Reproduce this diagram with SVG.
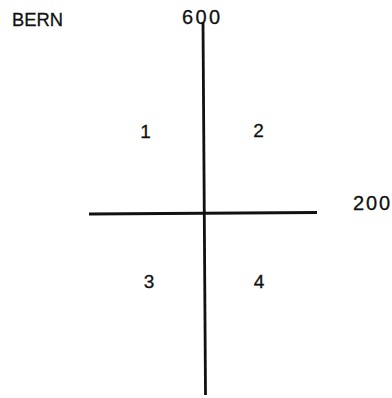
<svg xmlns="http://www.w3.org/2000/svg" width="392" height="398" viewBox="0 0 392 398">
<style>
text{font-family:"Liberation Sans",Arial,sans-serif;font-size:19px;fill:#111;stroke:#111;stroke-width:0.3}
.num{font-size:20px}
.ax{stroke:#111;stroke-width:2.8;fill:none;stroke-linecap:butt}
</style>
<rect width="392" height="398" fill="#fff"/>
<g id="connectors">
<line class="ax" x1="203" y1="22" x2="205.5" y2="395"/>
<line class="ax" x1="89" y1="214" x2="317" y2="212.5"/>
</g>
<g id="title"><text x="12" y="26" font-size="18" textLength="51" lengthAdjust="spacingAndGlyphs">BERN</text></g>
<g id="label-600"><text class="num" x="182" y="23.5" textLength="38" lengthAdjust="spacing">600</text></g>
<g id="label-200"><text class="num" x="353" y="209.5" textLength="37" lengthAdjust="spacing">200</text></g>
<g id="q1"><text x="145.5" y="138" text-anchor="middle">1</text></g>
<g id="q2"><text x="258.5" y="136.5" text-anchor="middle">2</text></g>
<g id="q3"><text x="149" y="287.5" text-anchor="middle">3</text></g>
<g id="q4"><text x="259" y="287.5" text-anchor="middle">4</text></g>
</svg>
